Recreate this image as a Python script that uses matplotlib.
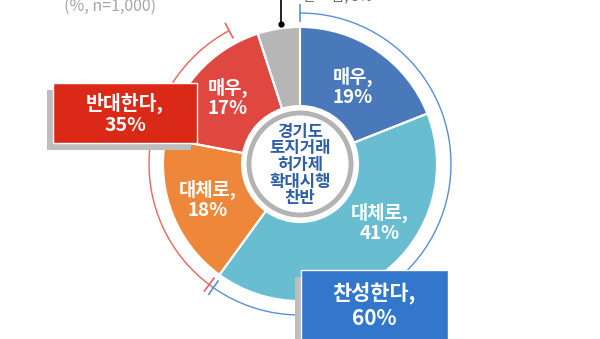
import matplotlib.pyplot as plt
from matplotlib.patches import Arc, Circle, Rectangle
import numpy as np

plt.rcParams['font.family'] = ['Noto Sans CJK KR', 'DejaVu Sans']

# 경기도 토지거래 허가제 확대시행 찬반 (%, n=1,000)
labels = ['매우', '대체로', '대체로', '매우', '잘 모름']
values = [19, 41, 18, 17, 5]
colors = ['#3566ab', '#4eaec4', '#e6731c', '#d42c24', '#a0a0a0']
stripes = ['#4a79bb', '#68bdd1', '#ef873a', '#df4740', '#b6b6b6']
label_pos = [(353, 252), (380, 116), (208, 139), (228, 241)]

groups = ['찬성한다', '반대한다']
group_values = [values[0] + values[1], values[2] + values[3]]

fig = plt.figure(figsize=(6, 3.39), dpi=100)
ax = fig.add_axes([0, 0, 1, 1])

cx, cy = 300, 175
r_out, ring = 137, 79

# base fill, then stripes, then white separators
pie_kw = dict(startangle=90, counterclock=False, radius=r_out, center=(cx, cy), frame=True)
ax.pie(values, colors=colors, wedgeprops=dict(width=ring, linewidth=0), **pie_kw)
w2, _ = ax.pie(values, colors=['none'] * 5, wedgeprops=dict(width=ring, linewidth=0), **pie_kw)
plt.rcParams['hatch.linewidth'] = 0.6
for w, c in zip(w2, stripes):
    w.set_facecolor('none')
    w.set_edgecolor(c)
    w.set_hatch('/' * 30)
ax.pie(values, colors=['none'] * 5,
       wedgeprops=dict(width=ring, linewidth=1.5, edgecolor='white', facecolor='none'), **pie_kw)
ax.set_xlim(0, 600)
ax.set_ylim(0, 339)
ax.set_aspect('equal')
ax.axis('off')

for (x, y), name, v in zip(label_pos, labels, values):
    ax.text(x, y, f'{name},\n{v}%', color='white', fontsize=13.5, fontweight='bold',
            ha='center', va='center', linespacing=1.1)

# center badge
ax.add_patch(Circle((cx, cy), 51, facecolor='white', edgecolor='#b3b3b3', linewidth=3.5, zorder=5))
ax.text(cx, cy - 1, '경기도\n토지거래\n허가제\n확대시행\n찬반', color='#2d5ea6', fontsize=12,
        fontweight='bold', ha='center', va='center', linespacing=0.9, zorder=6)

# group brackets around the ring
cum = np.cumsum([0] + values)
ang = 90 - cum / 100 * 360
r_arc = 151


def bracket(a1, a2, color, tick_ang):
    ax.add_patch(Arc((cx, cy), 2 * r_arc, 2 * r_arc, theta1=a1, theta2=a2, color=color, linewidth=1))
    for t in tick_ang:
        tr = np.radians(t)
        ax.plot([cx + (r_arc - 8) * np.cos(tr), cx + (r_arc + 8) * np.cos(tr)],
                [cy + (r_arc - 8) * np.sin(tr), cy + (r_arc + 8) * np.sin(tr)],
                color=color, linewidth=1.2)


bracket(ang[2], ang[0], '#5b8fd8', [ang[0], ang[2] + 1])
bracket(ang[4] + 10, ang[2] + 360, '#f0625c', [ang[4] + 10, ang[2] - 1])

# group boxes with drop shadow
ax.add_patch(Rectangle((47, 189), 144, 60, facecolor='#bdbdbd', edgecolor='none', zorder=7))
ax.add_patch(Rectangle((53, 196), 144, 60, facecolor='#da2a17', edgecolor='white', linewidth=1, zorder=8))
ax.text(125, 225, f'{groups[1]},\n{group_values[1]}%', color='white', fontsize=14,
        fontweight='bold', ha='center', va='center', linespacing=1.15, zorder=9)

ax.add_patch(Rectangle((295, -10), 147, 72, facecolor='#bdbdbd', edgecolor='none', zorder=7))
ax.add_patch(Rectangle((301, -10), 147, 79, facecolor='#3277cb', edgecolor='white', linewidth=1, zorder=8))
ax.text(374, 33, f'{groups[0]},\n{group_values[0]}%', color='white', fontsize=15,
        fontweight='bold', ha='center', va='center', linespacing=1.15, zorder=9)

# leader to the "don't know" slice
ax.plot([281, 281], [315, 345], color='black', linewidth=1.2)
ax.plot(281, 315, 'o', color='black', markersize=3.5)
ax.text(303, 336, f'{labels[4]}, {values[4]}%', color='#666666', fontsize=10, ha='left', va='bottom')

ax.text(110, 333, '(%, n=1,000)', color='#a6a6a6', fontsize=11.5, ha='center', va='center')

fig.savefig('out.png', dpi=100)
